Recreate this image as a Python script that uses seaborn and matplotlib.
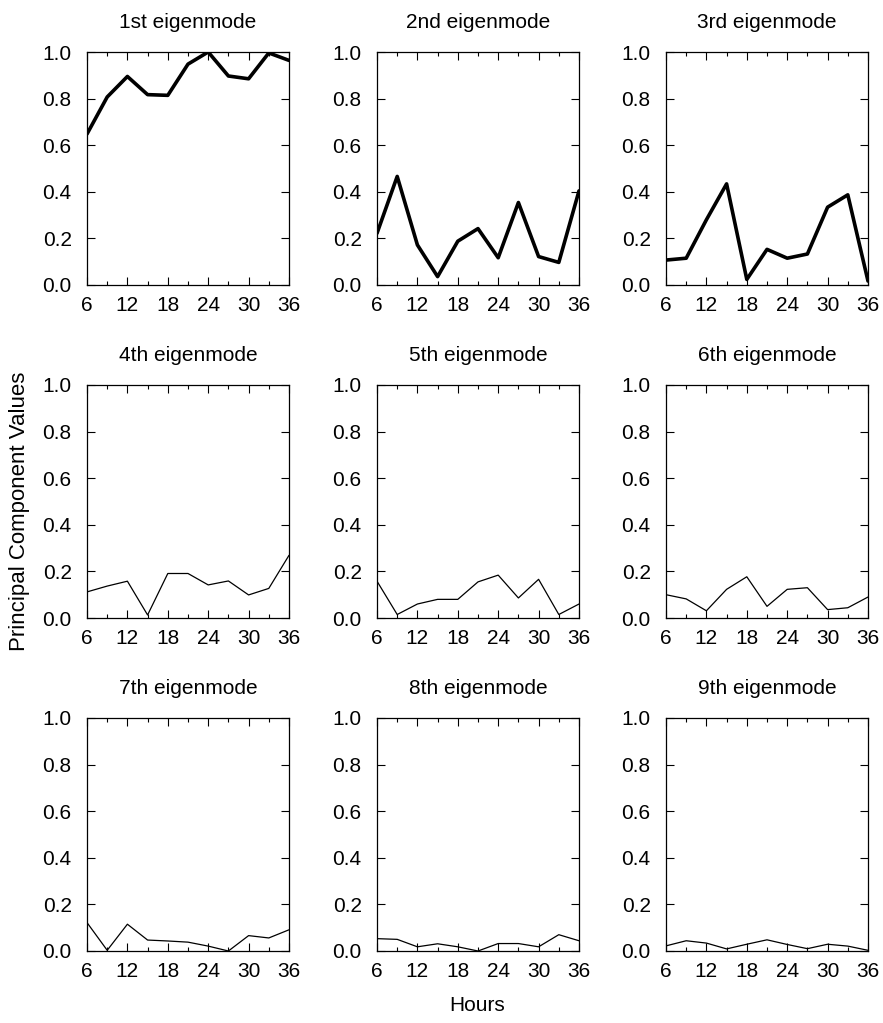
import matplotlib
matplotlib.use('Agg')
import matplotlib.pyplot as plt
import seaborn as sns
import pandas as pd
from matplotlib.ticker import MultipleLocator

# Horas de pronóstico
horas = [6, 9, 12, 15, 18, 21, 24, 27, 30, 33, 36]

titulos = ['1st eigenmode', '2nd eigenmode', '3rd eigenmode',
           '4th eigenmode', '5th eigenmode', '6th eigenmode',
           '7th eigenmode', '8th eigenmode', '9th eigenmode']

modo1 = [0.648, 0.807, 0.895, 0.817, 0.814, 0.948, 1.0, 0.897, 0.885, 0.996, 0.964]
modo2 = [0.222, 0.466, 0.172, 0.036, 0.188, 0.242, 0.117, 0.354, 0.122, 0.097, 0.404]
modo3 = [0.107, 0.115, 0.28, 0.434, 0.024, 0.153, 0.115, 0.133, 0.334, 0.387, 0.017]
modo4 = [0.112, 0.137, 0.158, 0.013, 0.191, 0.191, 0.142, 0.159, 0.099, 0.127, 0.269]
modo5 = [0.158, 0.015, 0.06, 0.08, 0.08, 0.155, 0.184, 0.086, 0.166, 0.015, 0.06]
modo6 = [0.10, 0.082, 0.031, 0.123, 0.177, 0.05, 0.123, 0.13, 0.036, 0.044, 0.09]
modo7 = [0.122, 0.003, 0.115, 0.047, 0.043, 0.038, 0.021, 0.0, 0.066, 0.056, 0.091]
modo8 = [0.053, 0.05, 0.018, 0.031, 0.018, 0.0, 0.032, 0.032, 0.018, 0.07, 0.044]
modo9 = [0.022, 0.044, 0.034, 0.009, 0.029, 0.048, 0.028, 0.01, 0.029, 0.021, 0.003]

modos = [modo1, modo2, modo3, modo4, modo5, modo6, modo7, modo8, modo9]

filas = []
for titulo, valores in zip(titulos, modos):
    for h, v in zip(horas, valores):
        filas.append({'modo': titulo, 'hora': h, 'valor': v})
df = pd.DataFrame(filas)

sns.set_style('ticks')
plt.rcParams['font.family'] = ['Liberation Sans', 'DejaVu Sans']
plt.rcParams['text.color'] = 'black'
plt.rcParams['xtick.color'] = 'black'
plt.rcParams['ytick.color'] = 'black'
plt.rcParams['axes.edgecolor'] = 'black'

fig = plt.figure(figsize=(8.83, 10.23), dpi=100)

lefts = [87 / 883, 377 / 883, 666 / 883]
bottoms = [1 - 285 / 1023, 1 - 618 / 1023, 1 - 951 / 1023]
ancho = 202 / 883
alto = 233 / 1023

for i, titulo in enumerate(titulos):
    fila, col = divmod(i, 3)
    ax = fig.add_axes([lefts[col], bottoms[fila], ancho, alto])
    grosor = 2.6 if fila == 0 else 0.9
    sns.lineplot(data=df[df['modo'] == titulo], x='hora', y='valor',
                 color='black', linewidth=grosor, ax=ax)
    ax.set_xlim(6, 36)
    ax.set_ylim(0, 1)
    ax.xaxis.set_major_locator(MultipleLocator(6))
    ax.xaxis.set_minor_locator(MultipleLocator(3))
    ax.yaxis.set_major_locator(MultipleLocator(0.2))
    ax.set_yticklabels([f'{t:.1f}' for t in ax.get_yticks()])
    ax.tick_params(which='both', direction='in', top=True, right=True,
                   labelsize=15, width=0.8, labelcolor='black')
    ax.tick_params(axis='x', pad=8)
    ax.tick_params(axis='y', pad=11)
    ax.tick_params(which='major', length=6)
    ax.tick_params(which='minor', length=3)
    for s in ax.spines.values():
        s.set_linewidth(0.9)
    ax.set_title(titulo, fontsize=15, pad=17, color='black')
    ax.set_xlabel('')
    ax.set_ylabel('')

fig.text(0.022, 0.5, 'Principal Component Values', rotation=90,
         ha='center', va='center', fontsize=16)
fig.text(0.54, 0.017, 'Hours', ha='center', va='center', fontsize=15)

plt.savefig('out.png', dpi=100)
